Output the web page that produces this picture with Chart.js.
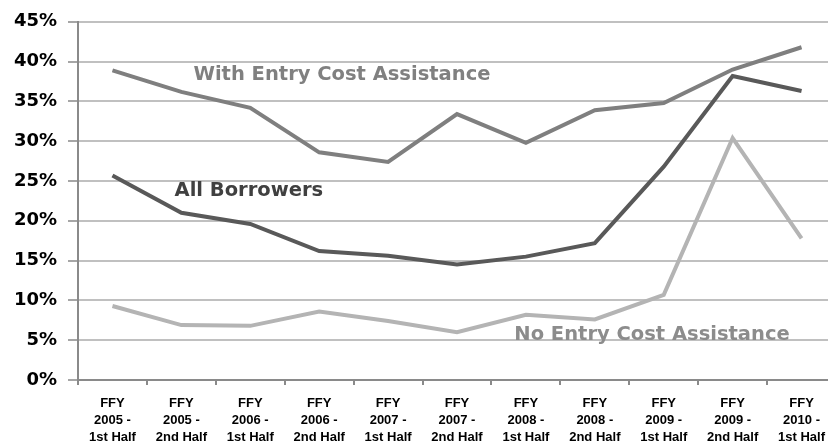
<!DOCTYPE html>
<html>
<head>
<meta charset="utf-8">
<script src="https://cdn.jsdelivr.net/npm/chart.js@4.4.0/dist/chart.umd.min.js"></script>
<style>
  html, body { margin: 0; padding: 0; background: #fff; overflow: hidden; }
</style>
</head>
<body>
<canvas id="chart" width="838" height="452"></canvas>
<script>
const categories = [
  ['FFY', '2005 -', '1st Half'],
  ['FFY', '2005 -', '2nd Half'],
  ['FFY', '2006 -', '1st Half'],
  ['FFY', '2006 -', '2nd Half'],
  ['FFY', '2007 -', '1st Half'],
  ['FFY', '2007 -', '2nd Half'],
  ['FFY', '2008 -', '1st Half'],
  ['FFY', '2008 -', '2nd Half'],
  ['FFY', '2009 -', '1st Half'],
  ['FFY', '2009 -', '2nd Half'],
  ['FFY', '2010 -', '1st Half']
];
const withEntry    = [38.9, 36.2, 34.2, 28.6, 27.4, 33.4, 29.8, 33.9, 34.8, 39.0, 41.8];
const allBorrowers = [25.7, 21.0, 19.6, 16.2, 15.6, 14.5, 15.5, 17.2, 26.8, 38.2, 36.3];
const noEntry      = [9.3, 6.9, 6.8, 8.6, 7.4, 6.0, 8.2, 7.6, 10.7, 30.4, 17.8];
const yTicks = [0, 5, 10, 15, 20, 25, 30, 35, 40, 45];

// text labels placed next to the lines (category index, value)
const seriesLabels = [
  { text: 'With Entry Cost Assistance', at: [3.33, 38.3], color: '#808080' },
  { text: 'All Borrowers', at: [1.98, 23.8], color: '#404040' },
  { text: 'No Entry Cost Assistance', at: [7.83, 5.6], color: '#8c8c8c' }
];

const lineLabels = {
  id: 'lineLabels',
  afterDatasetsDraw(chart) {
    const { ctx, scales: { x, y } } = chart;
    ctx.save();
    ctx.font = 'bold 19.5px "DejaVu Sans"';
    ctx.textAlign = 'center';
    ctx.textBaseline = 'middle';
    seriesLabels.forEach(l => {
      const px = x.getPixelForValue(0) + (x.getPixelForValue(1) - x.getPixelForValue(0)) * l.at[0];
      ctx.fillStyle = l.color;
      ctx.fillText(l.text, px, y.getPixelForValue(l.at[1]));
    });
    ctx.restore();
  }
};

new Chart(document.getElementById('chart'), {
  type: 'line',
  data: {
    labels: categories,
    datasets: [
      { label: 'No Entry Cost Assistance', data: noEntry, borderColor: '#b4b4b4' },
      { label: 'With Entry Cost Assistance', data: withEntry, borderColor: '#7f7f7f' },
      { label: 'All Borrowers', data: allBorrowers, borderColor: '#595959' }
    ]
  },
  options: {
    responsive: false,
    animation: false,
    elements: {
      line: { borderWidth: 4, tension: 0, fill: false },
      point: { radius: 0 }
    },
    layout: { padding: { top: 19, right: 2, left: 0, bottom: 0 } },
    plugins: { legend: { display: false }, tooltip: { enabled: false } },
    scales: {
      x: {
        offset: true,
        grid: { offset: true, drawOnChartArea: false, tickLength: 5, color: '#8a8a8a', lineWidth: 2 },
        border: { color: '#8a8a8a', width: 2 },
        ticks: {
          color: '#000', padding: 10, maxRotation: 0, autoSkip: false,
          font: { family: '"Liberation Sans", Arial', weight: 'bold', size: 13, lineHeight: 1.32 }
        },
        afterFit(scale) { scale.height = 72; }
      },
      y: {
        min: 0, max: 45,
        afterBuildTicks(scale) { scale.ticks = yTicks.map(v => ({ value: v })); },
        grid: { color: '#c0c0c0', lineWidth: 2, tickLength: 10, tickColor: '#a6a6a6' },
        border: { color: '#8a8a8a', width: 2 },
        ticks: {
          color: '#000', padding: 11,
          font: { family: '"DejaVu Sans"', weight: 'bold', size: 18 },
          callback: v => v + '%'
        },
        afterFit(scale) { scale.width = 78; }
      }
    }
  },
  plugins: [lineLabels]
});
</script>
</body>
</html>
